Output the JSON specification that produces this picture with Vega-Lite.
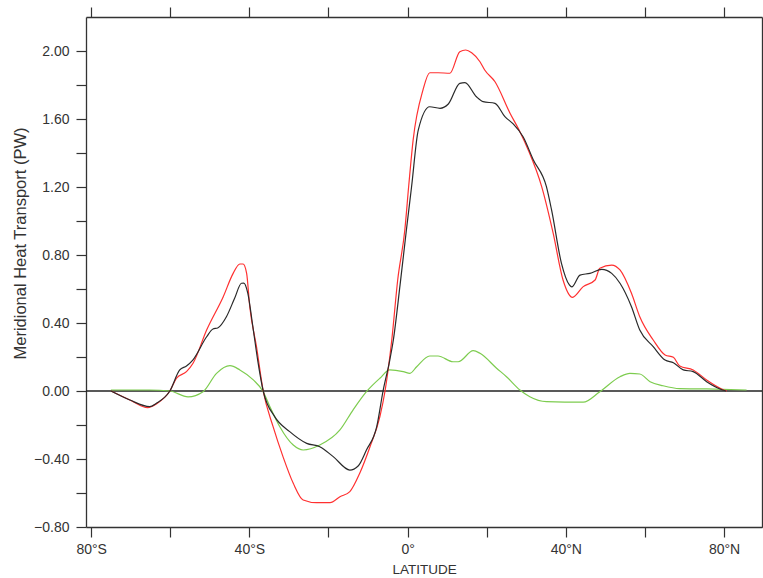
{
  "$schema": "https://vega.github.io/schema/vega-lite/v6.json",
  "autosize": {"type": "none"},
  "width": 676,
  "height": 510,
  "padding": {"left": 86, "top": 17, "right": 1, "bottom": 51},
  "background": "white",
  "config": {
    "view": {"stroke": null},
    "font": "Liberation Sans",
    "axis": {
      "grid": false,
      "domainColor": "#333333",
      "domainWidth": 1.3,
      "tickColor": "#333333",
      "tickWidth": 1.2,
      "tickSize": 10,
      "labelColor": "#333333",
      "labelFont": "Liberation Sans",
      "labelFontSize": 14,
      "titleColor": "#333333",
      "titleFont": "Liberation Sans",
      "titleFontWeight": "normal"
    }
  },
  "datasets": {
    "curves": [
      {"s": "green", "lat": -75.0, "v": 0.006},
      {"s": "green", "lat": -65.2, "v": 0.006},
      {"s": "green", "lat": -60.1, "v": 0.0},
      {"s": "green", "lat": -55.5, "v": -0.034},
      {"s": "green", "lat": -51.7, "v": -0.004},
      {"s": "green", "lat": -48.3, "v": 0.104},
      {"s": "green", "lat": -44.9, "v": 0.149},
      {"s": "green", "lat": -42.4, "v": 0.124},
      {"s": "green", "lat": -39.0, "v": 0.065},
      {"s": "green", "lat": -36.5, "v": -0.004},
      {"s": "green", "lat": -34.8, "v": -0.092},
      {"s": "green", "lat": -32.3, "v": -0.21},
      {"s": "green", "lat": -28.9, "v": -0.318},
      {"s": "green", "lat": -26.4, "v": -0.347},
      {"s": "green", "lat": -22.2, "v": -0.318},
      {"s": "green", "lat": -17.1, "v": -0.229},
      {"s": "green", "lat": -13.8, "v": -0.112},
      {"s": "green", "lat": -10.4, "v": -0.004},
      {"s": "green", "lat": -7.0, "v": 0.075},
      {"s": "green", "lat": -4.5, "v": 0.124},
      {"s": "green", "lat": -1.1, "v": 0.114},
      {"s": "green", "lat": 0.6, "v": 0.104},
      {"s": "green", "lat": 2.3, "v": 0.143},
      {"s": "green", "lat": 5.6, "v": 0.206},
      {"s": "green", "lat": 7.7, "v": 0.206},
      {"s": "green", "lat": 11.5, "v": 0.172},
      {"s": "green", "lat": 12.8, "v": 0.172},
      {"s": "green", "lat": 16.6, "v": 0.237},
      {"s": "green", "lat": 18.3, "v": 0.222},
      {"s": "green", "lat": 22.5, "v": 0.134},
      {"s": "green", "lat": 25.0, "v": 0.084},
      {"s": "green", "lat": 28.4, "v": 0.006},
      {"s": "green", "lat": 30.9, "v": -0.034},
      {"s": "green", "lat": 35.1, "v": -0.063},
      {"s": "green", "lat": 44.4, "v": -0.066},
      {"s": "green", "lat": 48.6, "v": -0.004},
      {"s": "green", "lat": 53.7, "v": 0.084},
      {"s": "green", "lat": 56.2, "v": 0.104},
      {"s": "green", "lat": 58.7, "v": 0.1},
      {"s": "green", "lat": 61.3, "v": 0.055},
      {"s": "green", "lat": 64.6, "v": 0.031},
      {"s": "green", "lat": 68.8, "v": 0.014},
      {"s": "green", "lat": 75.6, "v": 0.012},
      {"s": "green", "lat": 85.7, "v": 0.006},

      {"s": "red", "lat": -75.0, "v": 0.0},
      {"s": "red", "lat": -70.2, "v": -0.053},
      {"s": "red", "lat": -65.7, "v": -0.098},
      {"s": "red", "lat": -63.5, "v": -0.076},
      {"s": "red", "lat": -60.1, "v": 0.0},
      {"s": "red", "lat": -58.4, "v": 0.076},
      {"s": "red", "lat": -55.9, "v": 0.114},
      {"s": "red", "lat": -54.2, "v": 0.165},
      {"s": "red", "lat": -50.8, "v": 0.359},
      {"s": "red", "lat": -46.6, "v": 0.555},
      {"s": "red", "lat": -44.1, "v": 0.692},
      {"s": "red", "lat": -42.4, "v": 0.747},
      {"s": "red", "lat": -41.6, "v": 0.747},
      {"s": "red", "lat": -40.7, "v": 0.694},
      {"s": "red", "lat": -39.9, "v": 0.496},
      {"s": "red", "lat": -38.2, "v": 0.261},
      {"s": "red", "lat": -36.5, "v": 0.0},
      {"s": "red", "lat": -34.0, "v": -0.21},
      {"s": "red", "lat": -31.5, "v": -0.386},
      {"s": "red", "lat": -28.9, "v": -0.543},
      {"s": "red", "lat": -26.4, "v": -0.641},
      {"s": "red", "lat": -23.0, "v": -0.657},
      {"s": "red", "lat": -19.6, "v": -0.657},
      {"s": "red", "lat": -17.1, "v": -0.622},
      {"s": "red", "lat": -14.6, "v": -0.592},
      {"s": "red", "lat": -12.1, "v": -0.484},
      {"s": "red", "lat": -9.5, "v": -0.328},
      {"s": "red", "lat": -7.0, "v": -0.151},
      {"s": "red", "lat": -5.7, "v": 0.0},
      {"s": "red", "lat": -4.0, "v": 0.3},
      {"s": "red", "lat": -2.5, "v": 0.653},
      {"s": "red", "lat": -0.7, "v": 0.947},
      {"s": "red", "lat": 0.3, "v": 1.21},
      {"s": "red", "lat": 1.4, "v": 1.476},
      {"s": "red", "lat": 3.9, "v": 1.771},
      {"s": "red", "lat": 5.6, "v": 1.872},
      {"s": "red", "lat": 7.7, "v": 1.872},
      {"s": "red", "lat": 10.7, "v": 1.869},
      {"s": "red", "lat": 13.2, "v": 1.996},
      {"s": "red", "lat": 14.7, "v": 2.006},
      {"s": "red", "lat": 16.2, "v": 1.99},
      {"s": "red", "lat": 18.3, "v": 1.937},
      {"s": "red", "lat": 19.5, "v": 1.888},
      {"s": "red", "lat": 22.1, "v": 1.819},
      {"s": "red", "lat": 25.9, "v": 1.634},
      {"s": "red", "lat": 28.4, "v": 1.525},
      {"s": "red", "lat": 30.5, "v": 1.418},
      {"s": "red", "lat": 33.9, "v": 1.202},
      {"s": "red", "lat": 36.8, "v": 0.928},
      {"s": "red", "lat": 39.3, "v": 0.653},
      {"s": "red", "lat": 41.7, "v": 0.551},
      {"s": "red", "lat": 44.4, "v": 0.614},
      {"s": "red", "lat": 47.4, "v": 0.653},
      {"s": "red", "lat": 48.6, "v": 0.722},
      {"s": "red", "lat": 51.6, "v": 0.741},
      {"s": "red", "lat": 53.7, "v": 0.712},
      {"s": "red", "lat": 56.6, "v": 0.575},
      {"s": "red", "lat": 58.7, "v": 0.437},
      {"s": "red", "lat": 62.1, "v": 0.3},
      {"s": "red", "lat": 65.1, "v": 0.212},
      {"s": "red", "lat": 67.2, "v": 0.198},
      {"s": "red", "lat": 68.8, "v": 0.147},
      {"s": "red", "lat": 72.2, "v": 0.124},
      {"s": "red", "lat": 75.6, "v": 0.065},
      {"s": "red", "lat": 79.4, "v": 0.012},
      {"s": "red", "lat": 80.7, "v": 0.0},

      {"s": "black", "lat": -75.0, "v": 0.0},
      {"s": "black", "lat": -70.2, "v": -0.053},
      {"s": "black", "lat": -65.2, "v": -0.092},
      {"s": "black", "lat": -63.5, "v": -0.072},
      {"s": "black", "lat": -60.1, "v": 0.0},
      {"s": "black", "lat": -57.6, "v": 0.124},
      {"s": "black", "lat": -55.9, "v": 0.147},
      {"s": "black", "lat": -54.3, "v": 0.182},
      {"s": "black", "lat": -50.8, "v": 0.319},
      {"s": "black", "lat": -49.2, "v": 0.365},
      {"s": "black", "lat": -48.0, "v": 0.371},
      {"s": "black", "lat": -45.8, "v": 0.437},
      {"s": "black", "lat": -43.7, "v": 0.547},
      {"s": "black", "lat": -42.0, "v": 0.634},
      {"s": "black", "lat": -41.4, "v": 0.635},
      {"s": "black", "lat": -40.4, "v": 0.576},
      {"s": "black", "lat": -39.1, "v": 0.376},
      {"s": "black", "lat": -37.9, "v": 0.182},
      {"s": "black", "lat": -36.5, "v": 0.0},
      {"s": "black", "lat": -33.6, "v": -0.151},
      {"s": "black", "lat": -29.8, "v": -0.239},
      {"s": "black", "lat": -25.5, "v": -0.308},
      {"s": "black", "lat": -22.2, "v": -0.328},
      {"s": "black", "lat": -18.8, "v": -0.386},
      {"s": "black", "lat": -14.6, "v": -0.465},
      {"s": "black", "lat": -12.5, "v": -0.441},
      {"s": "black", "lat": -10.4, "v": -0.347},
      {"s": "black", "lat": -7.8, "v": -0.21},
      {"s": "black", "lat": -6.2, "v": 0.0},
      {"s": "black", "lat": -4.5, "v": 0.182},
      {"s": "black", "lat": -3.6, "v": 0.3},
      {"s": "black", "lat": -1.9, "v": 0.624},
      {"s": "black", "lat": -0.3, "v": 0.947},
      {"s": "black", "lat": 1.0, "v": 1.2},
      {"s": "black", "lat": 2.7, "v": 1.535},
      {"s": "black", "lat": 5.6, "v": 1.672},
      {"s": "black", "lat": 8.2, "v": 1.663},
      {"s": "black", "lat": 10.3, "v": 1.688},
      {"s": "black", "lat": 13.2, "v": 1.81},
      {"s": "black", "lat": 14.5, "v": 1.814},
      {"s": "black", "lat": 17.4, "v": 1.731},
      {"s": "black", "lat": 19.1, "v": 1.702},
      {"s": "black", "lat": 22.1, "v": 1.692},
      {"s": "black", "lat": 24.6, "v": 1.614},
      {"s": "black", "lat": 26.7, "v": 1.571},
      {"s": "black", "lat": 29.2, "v": 1.496},
      {"s": "black", "lat": 31.8, "v": 1.359},
      {"s": "black", "lat": 35.1, "v": 1.202},
      {"s": "black", "lat": 36.4, "v": 1.065},
      {"s": "black", "lat": 38.9, "v": 0.751},
      {"s": "black", "lat": 40.9, "v": 0.624},
      {"s": "black", "lat": 41.5, "v": 0.612},
      {"s": "black", "lat": 43.6, "v": 0.682},
      {"s": "black", "lat": 46.1, "v": 0.692},
      {"s": "black", "lat": 49.1, "v": 0.716},
      {"s": "black", "lat": 51.6, "v": 0.692},
      {"s": "black", "lat": 53.7, "v": 0.634},
      {"s": "black", "lat": 56.6, "v": 0.496},
      {"s": "black", "lat": 58.7, "v": 0.359},
      {"s": "black", "lat": 62.1, "v": 0.261},
      {"s": "black", "lat": 65.1, "v": 0.182},
      {"s": "black", "lat": 67.2, "v": 0.166},
      {"s": "black", "lat": 69.7, "v": 0.124},
      {"s": "black", "lat": 72.2, "v": 0.114},
      {"s": "black", "lat": 75.6, "v": 0.055},
      {"s": "black", "lat": 79.0, "v": 0.012},
      {"s": "black", "lat": 80.5, "v": 0.0}
    ],
    "zero": [{"x1": -81.3, "x2": 89.6, "y": 0}]
  },
  "layer": [
    {
      "data": {"name": "zero"},
      "mark": {"type": "rule", "color": "#222222", "strokeWidth": 1.3},
      "encoding": {
        "x": {
          "field": "x1", "type": "quantitative",
          "scale": {"domain": [-81.3, 89.6], "nice": false, "zero": false},
          "axis": {"orient": "top", "labels": false, "title": null,
                   "values": [-80, -60, -40, -20, 0, 20, 40, 60, 80]}
        },
        "x2": {"field": "x2"},
        "y": {
          "field": "y", "type": "quantitative",
          "scale": {"domain": [-0.8, 2.2], "nice": false, "zero": false},
          "axis": {"orient": "right", "labels": false, "title": null,
                   "values": [-0.8, -0.6, -0.4, -0.2, 0, 0.2, 0.4, 0.6, 0.8, 1.0, 1.2, 1.4, 1.6, 1.8, 2.0]}
        }
      }
    },
    {
      "data": {"name": "curves"},
      "mark": {"type": "line", "strokeWidth": 1.2, "interpolate": "monotone"},
      "encoding": {
        "x": {
          "field": "lat", "type": "quantitative",
          "scale": {"domain": [-81.3, 89.6], "nice": false, "zero": false},
          "axis": {
            "orient": "bottom",
            "values": [-80, -60, -40, -20, 0, 20, 40, 60, 80],
            "labelExpr": "datum.value % 40 == 0 ? (datum.value < 0 ? abs(datum.value) + '°S' : (datum.value > 0 ? datum.value + '°N' : '0°')) : ''",
            "labelPadding": 5,
            "labelFlush": false,
            "title": "LATITUDE",
            "titleFontSize": 13.5,
            "titleBaseline": "middle",
            "titleY": 42
          }
        },
        "y": {
          "field": "v", "type": "quantitative",
          "scale": {"domain": [-0.8, 2.2], "nice": false, "zero": false},
          "axis": {
            "orient": "left",
            "values": [-0.8, -0.6, -0.4, -0.2, 0, 0.2, 0.4, 0.6, 0.8, 1.0, 1.2, 1.4, 1.6, 1.8, 2.0],
            "labelExpr": "abs(round(datum.value * 10)) % 4 == 0 ? format(datum.value, '.2f') : ''",
            "labelPadding": 7,
            "labelFlush": false,
            "title": "Meridional Heat Transport (PW)",
            "titleFontSize": 16.5,
            "titleAngle": -90,
            "titleAlign": "center",
            "titleBaseline": "middle",
            "titleX": -66,
            "titleY": 226
          }
        },
        "color": {
          "field": "s", "type": "nominal",
          "scale": {"domain": ["green", "red", "black"], "range": ["#7dcc4f", "#ff3030", "#2a2a2a"]},
          "legend": null
        },
        "order": {"field": "lat", "type": "quantitative"}
      }
    }
  ],
  "resolve": {"axis": {"x": "independent", "y": "independent"}}
}
